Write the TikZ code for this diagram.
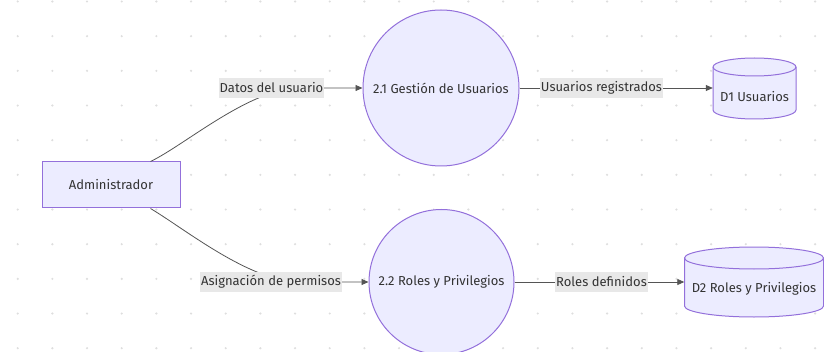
\documentclass[tikz,border=0pt]{standalone}
\usepackage{fontspec}
\setmainfont{Fira Sans}
\usetikzlibrary{arrows.meta,backgrounds}
\definecolor{nodefill}{HTML}{ECECFF}
\definecolor{nodeline}{HTML}{9370DB}
\definecolor{edgecol}{HTML}{555555}
\definecolor{labelbg}{HTML}{E8E8E8}
\definecolor{dotcol}{HTML}{DEDEDE}
\definecolor{txtcol}{HTML}{333333}
\tikzset{
  procbox/.style={rectangle, draw=nodeline, fill=nodefill, line width=1pt, minimum width=138pt, minimum height=46pt, inner sep=0pt},
  proc/.style={circle, draw=nodeline, fill=nodefill, line width=1pt, inner sep=0pt},
  dbtext/.style={rectangle, inner sep=0pt},
  cyl/.style={draw=nodeline, fill=nodefill, line width=1pt},
  cylline/.style={draw=nodeline, line width=1pt},
  elabel/.style={rectangle, fill=labelbg, inner sep=1pt, minimum height=20pt},
  flow/.style={draw=edgecol, line width=0.8pt, -{Triangle[length=7pt,width=6pt]}}
}
\begin{document}
\begin{tikzpicture}[x=1pt,y=1pt, font=\fontsize{13}{15.5}\selectfont, text=txtcol]
\useasboundingbox (0,0) rectangle (824,351);

\node[procbox] (adm) at (111,166) {Administrador};
\node[proc, minimum size=156pt] (p1) at (441,263) {2.1 Gestión de Usuarios};
\node[proc, minimum size=145pt] (p2) at (441.5,69) {2.2 Roles y Privilegios};
\node[dbtext, minimum width=83pt] (d1) at (754.5,254) {D1 Usuarios};
\node[dbtext, minimum width=139pt] (d2) at (754,62) {D2 Roles y Privilegios};

\begin{scope}[on background layer]
  \fill[white] (0,0) rectangle (824,351);
  \foreach \i in {0,...,23} \foreach \j in {0,...,10}
    \fill[dotcol] (17.7+34.67*\i, 349.5-34.67*\j) circle (1.2);
  \path[cyl] (713,284) -- (713,241) arc[start angle=180,end angle=360,x radius=41.5,y radius=9] -- (796,284) arc[start angle=0,end angle=180,x radius=41.5,y radius=9] -- cycle;
  \draw[cylline] (713,284) arc[start angle=180,end angle=360,x radius=41.5,y radius=9];
  \path[cyl] (684.5,93) -- (684.5,45) arc[start angle=180,end angle=360,x radius=69.5,y radius=11] -- (823.5,93) arc[start angle=0,end angle=180,x radius=69.5,y radius=11] -- cycle;
  \draw[cylline] (684.5,93) arc[start angle=180,end angle=360,x radius=69.5,y radius=11];
\end{scope}

\draw[flow] ([xshift=-30pt]adm.north east) .. controls (185,206) and (250,263) .. (300,263) -- (p1.west);
\draw[flow] ([xshift=-30pt]adm.south east) .. controls (185,122) and (250,69) .. (300,69) -- (p2.west);
\draw[flow] (p1.east) -- (d1.west |- p1.east);
\draw[flow] (p2.east) -- (d2.west |- p2.east);

\node[elabel] (l1) at (271.5,263) {Datos del usuario};
\node[elabel] (l2) at (271,69) {Asignación de permisos};
\node[elabel] (l3) at (601.5,263) {Usuarios registrados};
\node[elabel] (l4) at (601.5,69) {Roles definidos};
\end{tikzpicture}
\end{document}
